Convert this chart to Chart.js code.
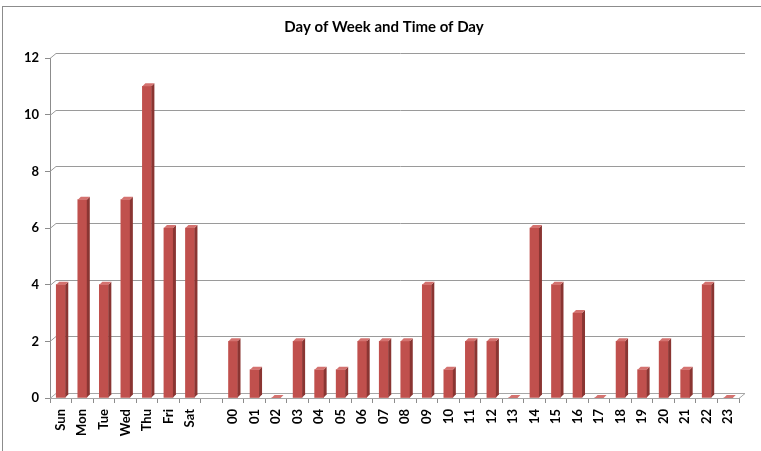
<!DOCTYPE html>
<html>
<head>
<meta charset="utf-8">
<script src="https://cdn.jsdelivr.net/npm/chart.js@4/dist/chart.umd.min.js"></script>
<style>
  html, body { margin: 0; padding: 0; background: #fff; }
  #wrap { width: 761px; height: 451px; position: relative; }
</style>
</head>
<body>
<div id="wrap"><canvas id="dow-chart" width="761" height="451"></canvas></div>
<script>
const chartTitle = 'Day of Week and Time of Day';
const categories = ['Sun', 'Mon', 'Tue', 'Wed', 'Thu', 'Fri', 'Sat', '',
    '00', '01', '02', '03', '04', '05', '06', '07', '08', '09', '10', '11',
    '12', '13', '14', '15', '16', '17', '18', '19', '20', '21', '22', '23'];
const counts = [4, 7, 4, 7, 11, 6, 6, null,
    2, 1, 0, 2, 1, 1, 2, 2, 2, 4, 1, 2, 2, 0, 6, 4, 3, 0, 2, 1, 2, 1, 4, 0];
const yTicks = [0, 2, 4, 6, 8, 10, 12];

const DX = 6, DY = 5;      // depth of the back wall
const BX = 3, BY = 3;      // depth of a bar

// frame, title, back wall gridlines and bar faces
const wallPlugin = {
    id: 'wall',
    beforeDraw(chart) {
        const c = chart.ctx;
        c.save();
        c.strokeStyle = '#8c8c8c';
        c.lineWidth = 1;
        c.strokeRect(2.5, 6.5, 900, 600);
        c.fillStyle = '#000';
        c.font = 'bold 15px Lato';
        c.textAlign = 'center';
        c.textBaseline = 'middle';
        c.fillText(chartTitle, 384, 27);
        c.restore();
    },
    beforeDatasetsDraw(chart) {
        const c = chart.ctx, a = chart.chartArea, y = chart.scales.y;
        c.save();
        c.lineWidth = 1;
        yTicks.forEach(function (v) {
            const py = Math.round(y.getPixelForValue(v)) + 0.5;
            c.strokeStyle = v === 0 ? '#a6a6a6' : '#9a9a9a';
            c.beginPath();
            c.moveTo(a.left, py);
            c.lineTo(a.left + DX, py - DY);
            c.lineTo(a.right + DX, py - DY);
            if (v === 0) {
                c.lineTo(a.right, py);
                c.lineTo(a.left, py);
            }
            c.stroke();
        });
        c.restore();
    },
    afterDatasetsDraw(chart) {
        const c = chart.ctx;
        const meta = chart.getDatasetMeta(0);
        c.save();
        meta.data.forEach(function (bar, i) {
            if (counts[i] === null) return;
            const p = bar.getProps(['x', 'y', 'base', 'width'], true);
            const l = p.x - p.width / 2, r = p.x + p.width / 2;
            // side face
            c.fillStyle = '#8a3532';
            c.beginPath();
            c.moveTo(r, p.y);
            c.lineTo(r + BX, p.y - BY);
            c.lineTo(r + BX, p.base - BY);
            c.lineTo(r, p.base);
            c.closePath();
            c.fill();
            // top face
            c.fillStyle = '#d4726f';
            c.beginPath();
            c.moveTo(l, p.y);
            c.lineTo(l + BX, p.y - BY);
            c.lineTo(r + BX, p.y - BY);
            c.lineTo(r, p.y);
            c.closePath();
            c.fill();
        });
        c.restore();
    }
};

new Chart(document.getElementById('dow-chart').getContext('2d'), {
    type: 'bar',
    data: {
        labels: categories,
        datasets: [{
            label: 'Count',
            data: counts,
            backgroundColor: '#c0504d',
            barThickness: 9
        }]
    },
    options: {
        responsive: false,
        animation: false,
        layout: { padding: { left: 2, right: 22, top: 58, bottom: 0 } },
        plugins: {
            legend: { display: false },
            tooltip: { enabled: false },
            title: { display: false }
        },
        scales: {
            x: {
                grid: { drawOnChartArea: false, tickLength: 5, color: '#8c8c8c', offset: true },
                border: { display: false },
                ticks: {
                    color: '#000',
                    font: { family: 'Lato', size: 13, weight: 'bold' },
                    minRotation: 90, maxRotation: 90,
                    autoSkip: false, padding: 6
                },
                afterFit(s) { s.height = 53; }
            },
            y: {
                min: 0, max: 12,
                grid: { drawOnChartArea: false, tickLength: 5, color: '#8c8c8c' },
                border: { color: '#8c8c8c' },
                ticks: {
                    stepSize: 2,
                    color: '#000',
                    font: { family: 'Lato', size: 13, weight: 'bold' },
                    padding: 6
                },
                afterFit(s) { s.width = 48; }
            }
        }
    },
    plugins: [wallPlugin]
});
</script>
</body>
</html>
